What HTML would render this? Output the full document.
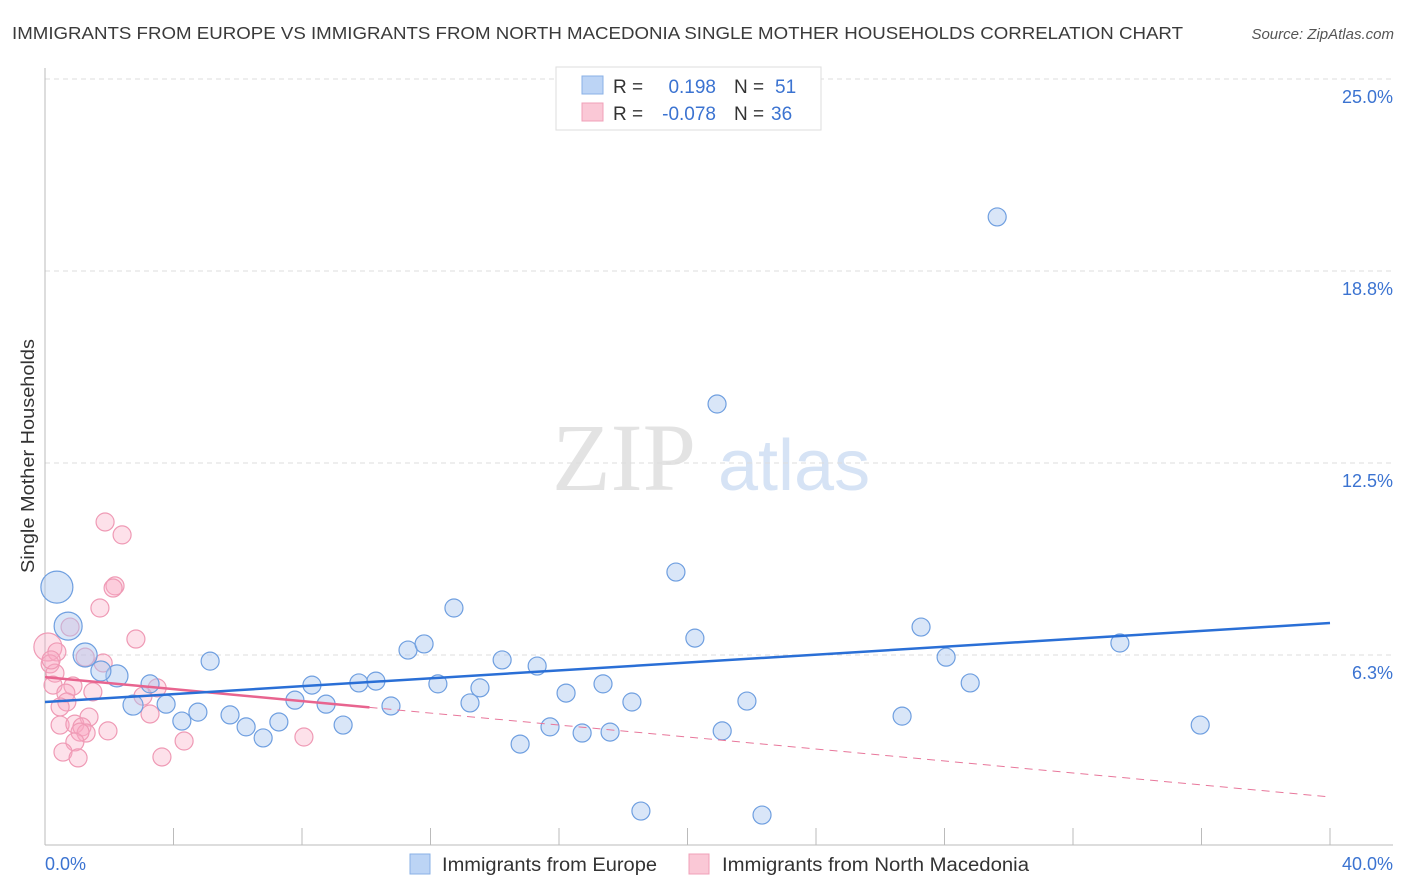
<!DOCTYPE html>
<html><head><meta charset="utf-8"><style>
body{margin:0;background:#fff;font-family:"Liberation Sans",sans-serif;}
svg{display:block}
</style></head><body>
<svg id="chart" width="1406" height="892" xmlns="http://www.w3.org/2000/svg" font-family="Liberation Sans, sans-serif">
<text x="12" y="39" font-size="17.5" fill="#3a3a3a" textLength="1171" lengthAdjust="spacingAndGlyphs">IMMIGRANTS FROM EUROPE VS IMMIGRANTS FROM NORTH MACEDONIA SINGLE MOTHER HOUSEHOLDS CORRELATION CHART</text>
<text x="1394" y="39" font-size="15" fill="#555" text-anchor="end" font-style="italic">Source: ZipAtlas.com</text>
<g>
<text x="552" y="490" font-size="96" font-family="Liberation Serif, serif" fill="#e3e3e3">ZIP</text>
<text x="718" y="490" font-size="72" fill="#d6e3f5">atlas</text>
</g>
<g id="grid"></g>
<g id="axes"></g>
<g id="marks"></g>
<text transform="translate(34,456) rotate(-90)" font-size="18" fill="#333" text-anchor="middle" textLength="234" lengthAdjust="spacingAndGlyphs">Single Mother Households</text>
<g>
<rect x="556" y="67" width="265" height="63" fill="#fff" stroke="#ddd"/>
<rect x="582" y="76" width="21" height="18" fill="#bcd4f5" stroke="#8ab0e6"/>
<rect x="582" y="103" width="21" height="18" fill="#fac8d6" stroke="#f0a0b8"/>
<text x="613" y="93" font-size="19" fill="#333">R =</text>
<text x="716" y="93" font-size="19" fill="#3b73d1" text-anchor="end">0.198</text>
<text x="734" y="93" font-size="19" fill="#333">N =</text>
<text x="775" y="93" font-size="19" fill="#3b73d1">51</text>
<text x="613" y="120" font-size="19" fill="#333">R =</text>
<text x="716" y="120" font-size="19" fill="#3b73d1" text-anchor="end">-0.078</text>
<text x="734" y="120" font-size="19" fill="#333">N =</text>
<text x="771" y="120" font-size="19" fill="#3b73d1">36</text>
</g>
<g>
<rect x="410" y="854" width="20" height="20" fill="#bcd4f5" stroke="#8ab0e6"/>
<text x="442" y="871" font-size="19" fill="#333" textLength="215" lengthAdjust="spacingAndGlyphs">Immigrants from Europe</text>
<rect x="689" y="854" width="20" height="20" fill="#fac8d6" stroke="#f0a0b8"/>
<text x="722" y="871" font-size="19" fill="#333" textLength="307" lengthAdjust="spacingAndGlyphs">Immigrants from North Macedonia</text>
</g>
</svg>
<script>
const yTicks=[6.25,12.5,18.75,25];
const yTickLabels=["6.3%","12.5%","18.8%","25.0%"];
const xTickCount=10;
const xLabels=["0.0%","40.0%"];
const euroX=[0.37,0.72,1.25,2.24,1.74,3.27,2.74,3.77,4.26,4.76,5.14,5.76,6.26,6.79,7.28,7.78,8.31,8.75,9.28,9.77,10.30,10.77,11.30,11.80,12.23,12.73,13.23,13.54,14.23,14.79,15.32,15.72,16.22,16.72,17.37,17.59,18.27,18.55,19.64,20.23,20.92,21.08,21.85,22.32,26.68,27.27,28.05,28.80,29.64,33.46,35.96];
const euroY=[8.46,7.19,6.25,5.57,5.73,5.31,4.62,4.65,4.10,4.39,6.05,4.30,3.91,3.55,4.07,4.78,5.27,4.65,3.97,5.34,5.40,4.59,6.41,6.61,5.31,7.78,4.69,5.18,6.09,3.35,5.89,3.91,5.01,3.71,5.31,3.74,4.72,1.17,8.95,6.80,14.42,3.78,4.75,1.04,4.26,7.16,6.18,5.34,20.51,6.64,3.97];
const euroSize=[16,14,12,11,10,9,10,9,9,9,9,9,9,9,9,9,9,9,9,9,9,9,9,9,9,9,9,9,9,9,9,9,9,9,9,9,9,9,9,9,9,9,9,9,9,9,9,9,9,9,9];
const macX=[1.87,2.40,2.18,2.12,1.71,0.78,2.83,0.09,0.37,0.16,1.25,1.81,0.31,0.25,0.87,0.65,1.49,3.49,0.68,0.47,3.27,1.37,0.47,0.93,1.15,1.28,1.09,1.96,0.93,4.33,0.56,1.03,3.64,8.06,3.05,0.19];
const macY=[10.58,10.16,8.50,8.43,7.78,7.16,6.77,6.51,6.35,5.96,6.18,5.99,5.66,5.27,5.24,5.01,5.05,5.18,4.72,4.56,4.33,4.23,3.97,4.00,3.91,3.71,3.74,3.78,3.42,3.45,3.09,2.90,2.93,3.58,4.91,6.09];
const macSize=[9,9,9,9,9,9,9,14,9,9,9,9,9,9,9,9,9,9,9,9,9,9,9,9,9,9,9,9,9,9,9,9,9,9,9,9];
const euroTrend=[4.72,7.29];
const macTrend=[5.53,1.63];
const macSolidEnd=10.1;

const X0=45,X1=1330,Y0=847,PPU=192/6.25;
const sx=v=>X0+(v/40)*(X1-X0);
const sy=v=>Y0-v*PPU;
const NS="http://www.w3.org/2000/svg";
function mk(tag,attrs,parent){const e=document.createElementNS(NS,tag);for(const k in attrs)e.setAttribute(k,attrs[k]);parent.appendChild(e);return e;}
const grid=document.getElementById('grid'),axes=document.getElementById('axes'),marks=document.getElementById('marks');
yTicks.forEach((t,i)=>{
  const l=mk('line',{x1:X0,x2:1393,y1:sy(t),y2:sy(t),stroke:'#ddd','stroke-dasharray':'5,4'},grid);
  
  
  const tx=mk('text',{x:1393,y:sy(t)+24,'font-size':18,fill:'#3b73d1','text-anchor':'end'},axes);
  tx.textContent=yTickLabels[i];
  
  
});
const al=mk('line',{x1:X0,x2:X0,y1:68,y2:845,stroke:'#bbb'},axes);


const xl=mk('line',{x1:X0,x2:1393,y1:845,y2:845,stroke:'#bbb'},axes);


for(let i=0;i<=xTickCount;i++){
  const x=sx(i*40/xTickCount);
  const t=mk('line',{x1:x,x2:x,y1:828,y2:845,stroke:'#bbb'},axes);
  
  
}
const xa=mk('text',{x:X0,y:870,'font-size':18,fill:'#3b73d1'},axes);xa.textContent=xLabels[0];


const xb=mk('text',{x:1393,y:870,'font-size':18,fill:'#3b73d1','text-anchor':'end'},axes);xb.textContent=xLabels[1];



macX.forEach((v,i)=>{
  const c=mk('circle',{cx:sx(v),cy:sy(macY[i]),r:macSize[i],fill:'rgba(248,170,195,0.35)',stroke:'#ef9ab5','stroke-width':1.2},marks);
  
  
});
euroX.forEach((v,i)=>{
  const c=mk('circle',{cx:sx(v),cy:sy(euroY[i]),r:euroSize[i],fill:'rgba(170,200,240,0.45)',stroke:'#6f9fe0','stroke-width':1.2},marks);
  
  
});
const mAt=x=>macTrend[0]+(macTrend[1]-macTrend[0])*x/40;
const md=mk('line',{x1:sx(macSolidEnd),y1:sy(mAt(macSolidEnd)),x2:sx(40),y2:sy(macTrend[1]),stroke:'#e8779b','stroke-width':1,'stroke-dasharray':'8,6'},marks);


const ms=mk('line',{x1:sx(0),y1:sy(macTrend[0]),x2:sx(macSolidEnd),y2:sy(mAt(macSolidEnd)),stroke:'#e8648f','stroke-width':2.5},marks);


const et=mk('line',{x1:sx(0),y1:sy(euroTrend[0]),x2:sx(40),y2:sy(euroTrend[1]),stroke:'#2a6fd6','stroke-width':2.5},marks);


</script>
</body></html>
